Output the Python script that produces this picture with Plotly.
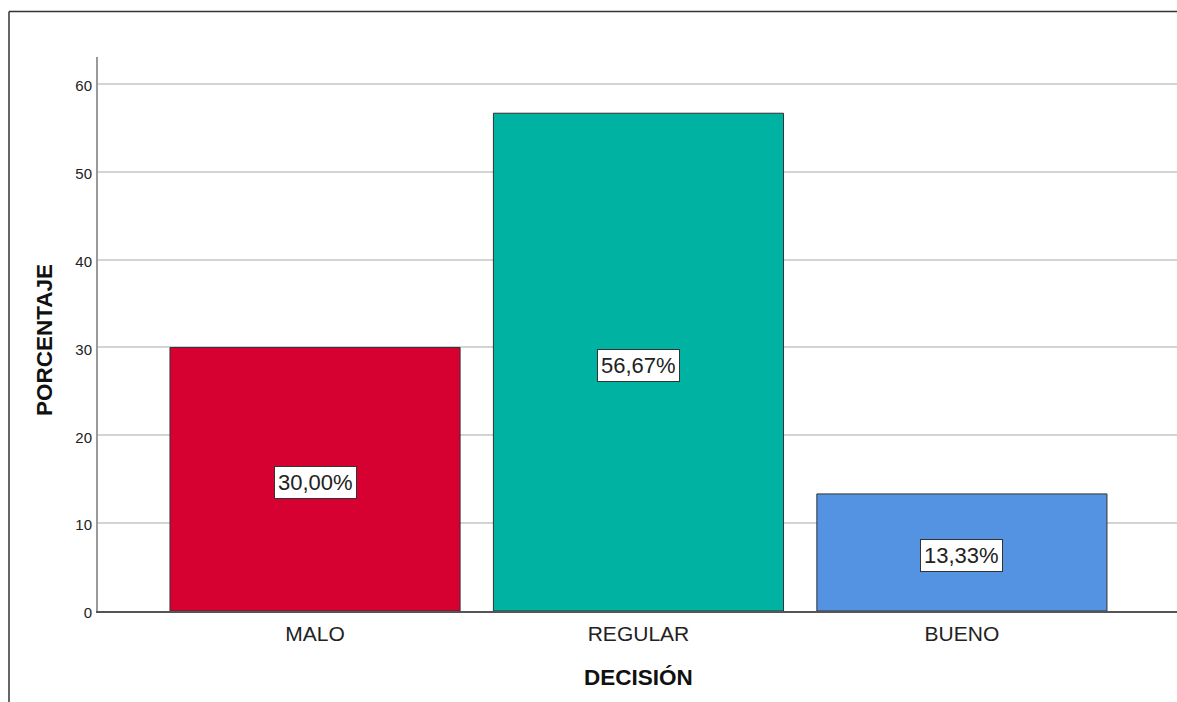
import plotly.graph_objects as go

# Category data
categories = ["MALO", "REGULAR", "BUENO"]
percentages = [30.00, 56.67, 13.33]
bar_colors = ["#D60031", "#00B2A1", "#5393E1"]
y_ticks = [0, 10, 20, 30, 40, 50, 60]

W, H = 1177, 702
L, T, R, B = 98, 57, 0, 91
plot_w = W - L - R
plot_h = H - T - B


def px_to_paper_x(px):
    return (px - L) / plot_w


def px_to_paper_y(py):
    return (H - B - py) / plot_h


fig = go.Figure()
fig.add_trace(go.Bar(
    x=list(range(len(categories))),
    y=percentages,
    width=0.897,
    marker=dict(color=bar_colors, line=dict(color="#333333", width=1)),
    hoverinfo="skip",
))

# Value boxes in the middle of each bar
for i, v in enumerate(percentages):
    fig.add_annotation(
        x=i, y=v / 2, xref="x", yref="y",
        text=f"{v:.2f}".replace(".", ",") + "%",
        showarrow=False, yshift=-3,
        xanchor="center", yanchor="middle",
        font=dict(family="Liberation Sans, Arial", size=22, color="#222222"),
        bgcolor="white", bordercolor="#333333", borderwidth=1, borderpad=3,
    )

# Axis titles
fig.add_annotation(
    x=px_to_paper_x(45), y=px_to_paper_y(340), xref="paper", yref="paper",
    text="<b>PORCENTAJE</b>", textangle=-90, showarrow=False,
    xanchor="center", yanchor="middle",
    font=dict(family="Liberation Sans, Arial", size=22.5, color="#111111"),
)
fig.add_annotation(
    x=px_to_paper_x(638), y=px_to_paper_y(677), xref="paper", yref="paper",
    text="<b>DECISIÓN</b>", showarrow=False,
    xanchor="center", yanchor="middle",
    font=dict(family="Liberation Sans, Arial", size=22.5, color="#111111"),
)

# Outer frame (left and top edges)
fx = px_to_paper_x(9)
fy = px_to_paper_y(11.5)
fig.add_shape(type="line", xref="paper", yref="paper",
              x0=fx, y0=px_to_paper_y(H + 5), x1=fx, y1=fy,
              line=dict(color="#333333", width=1.5))
fig.add_shape(type="line", xref="paper", yref="paper",
              x0=fx, y0=fy, x1=px_to_paper_x(W + 5), y1=fy,
              line=dict(color="#333333", width=1.5))

fig.update_layout(
    width=W, height=H,
    margin=dict(l=L, r=R, t=T, b=B, pad=0),
    paper_bgcolor="white", plot_bgcolor="white",
    showlegend=False,
    font=dict(family="Liberation Sans, Arial", color="#222222"),
    xaxis=dict(
        range=[-0.671, 2.665],
        tickmode="array", tickvals=list(range(len(categories))), ticktext=categories,
        tickfont=dict(size=21, color="#222222"),
        showgrid=False, zeroline=False, ticks="", ticklabelstandoff=3,
        showline=True, linecolor="#555555", linewidth=1.5,
    ),
    yaxis=dict(
        range=[0, 63.07],
        tickmode="array", tickvals=y_ticks,
        tickfont=dict(size=15, color="#222222"),
        showgrid=True, gridcolor="#D4D4D4", gridwidth=2,
        zeroline=False, ticks="", ticklabelstandoff=1, ticklabelshift=2,
        showline=True, linecolor="#999999", linewidth=2,
    ),
)

fig.write_html("out.html")
